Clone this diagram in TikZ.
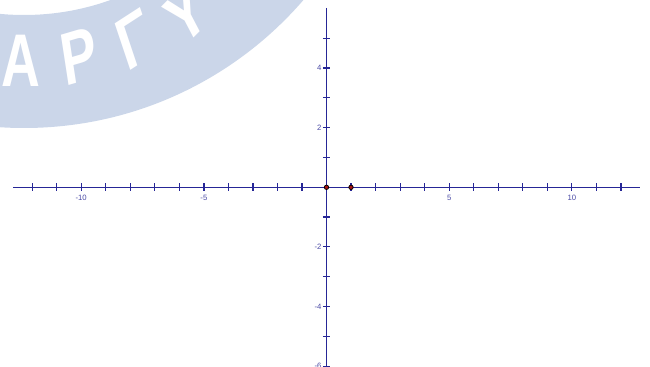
\documentclass[tikz,border=0pt]{standalone}
\usepackage{fontspec}
\setmainfont{Liberation Sans}
\definecolor{axisblue}{RGB}{38,38,150}
\definecolor{labelblue}{RGB}{75,75,165}
\definecolor{stampblue}{RGB}{203,214,233}
\definecolor{pointred}{RGB}{170,20,20}
\tikzset{every picture/.style={line width=0.75pt}}
\tikzset{ticklabel/.style={labelblue, font=\fontsize{5.8}{6}\selectfont, inner sep=0pt},
  stampletter/.style={white, font=\fontsize{56}{56}\selectfont\bfseries, inner sep=0pt, xscale=0.72}}

\begin{document}
\begin{tikzpicture}[x=0.75pt,y=0.75pt,yscale=-1,xscale=1]
	\useasboundingbox (0,0) rectangle (650,367);
	\clip (0,0) rectangle (650,367);

	%Shape: Ring [stamp]
	\fill [stampblue, even odd rule] (24,-241) circle (369) (24,-241) circle (256);
	% Text Node
	\path (24,-241) ++(90.5:302) node [stampletter, rotate=0] (sa) {Α};
	% Text Node
	\path (24,-241) ++(79.5:302) node [stampletter, rotate=12] (sr) {Ρ};
	% Text Node
	\path (24,-241) ++(68.5:302) node [stampletter, rotate=25] (sg) {Γ};
	% Text Node
	\path (24,-241) ++(57.5:302) node [stampletter, rotate=36] (sy) {Υ};

	%Straight Lines [x axis]
	\draw [axisblue, line width=1.1pt] (13,187.3) -- (640,187.3) ;
	%Straight Lines [y axis]
	\draw [axisblue, line width=1.1pt] (326.5,8) -- (326.5,370) ;
	%Straight Lines [x ticks]
	\draw [axisblue, line width=0.9pt] (32.1,183.5) -- (32.1,191) (56.7,183.5) -- (56.7,191) (81.2,183.5) -- (81.2,191) (105.7,183.5) -- (105.7,191) (130.3,183.5) -- (130.3,191) (154.8,183.5) -- (154.8,191) (179.3,183.5) -- (179.3,191) (203.9,183.5) -- (203.9,191) (228.4,183.5) -- (228.4,191) (252.9,183.5) -- (252.9,191) (277.4,183.5) -- (277.4,191) (302,183.5) -- (302,191) (351,183.5) -- (351,191) (375.6,183.5) -- (375.6,191) (400.1,183.5) -- (400.1,191) (424.6,183.5) -- (424.6,191) (449.2,183.5) -- (449.2,191) (473.7,183.5) -- (473.7,191) (498.2,183.5) -- (498.2,191) (522.7,183.5) -- (522.7,191) (547.3,183.5) -- (547.3,191) (571.8,183.5) -- (571.8,191) (596.3,183.5) -- (596.3,191) (620.9,183.5) -- (620.9,191) ;
	%Straight Lines [y ticks]
	\draw [axisblue, line width=0.9pt] (322.8,38.3) -- (330.3,38.3) (322.8,68.1) -- (330.3,68.1) (322.8,97.9) -- (330.3,97.9) (322.8,127.7) -- (330.3,127.7) (322.8,157.5) -- (330.3,157.5) (322.8,217.1) -- (330.3,217.1) (322.8,246.9) -- (330.3,246.9) (322.8,276.7) -- (330.3,276.7) (322.8,306.5) -- (330.3,306.5) (322.8,336.3) -- (330.3,336.3) (322.8,366.1) -- (330.3,366.1) ;

	%Shape: Circle [origin]
	\draw [fill=pointred, line width=0.6pt] (326.5,187.3) circle (2.2) ;
	%Shape: Circle [point at 1]
	\draw [fill=pointred, line width=0.6pt] (351,187.3) circle (2.2) ;

	% Text Node
	\draw (81.2,198) node [ticklabel] (lxm10) {-10};
	% Text Node
	\draw (203.9,198) node [ticklabel] (lxm5) {-5};
	% Text Node
	\draw (449.2,198) node [ticklabel] (lx5) {5};
	% Text Node
	\draw (571.8,198) node [ticklabel] (lx10) {10};
	% Text Node
	\draw (322,68.1) node [ticklabel, anchor=east] (ly4) {4};
	% Text Node
	\draw (322,127.7) node [ticklabel, anchor=east] (ly2) {2};
	% Text Node
	\draw (322,246.9) node [ticklabel, anchor=east] (lym2) {-2};
	% Text Node
	\draw (322,306.5) node [ticklabel, anchor=east] (lym4) {-4};
	% Text Node
	\draw (322,366.1) node [ticklabel, anchor=east] (lym6) {-6};

\end{tikzpicture}
\end{document}
